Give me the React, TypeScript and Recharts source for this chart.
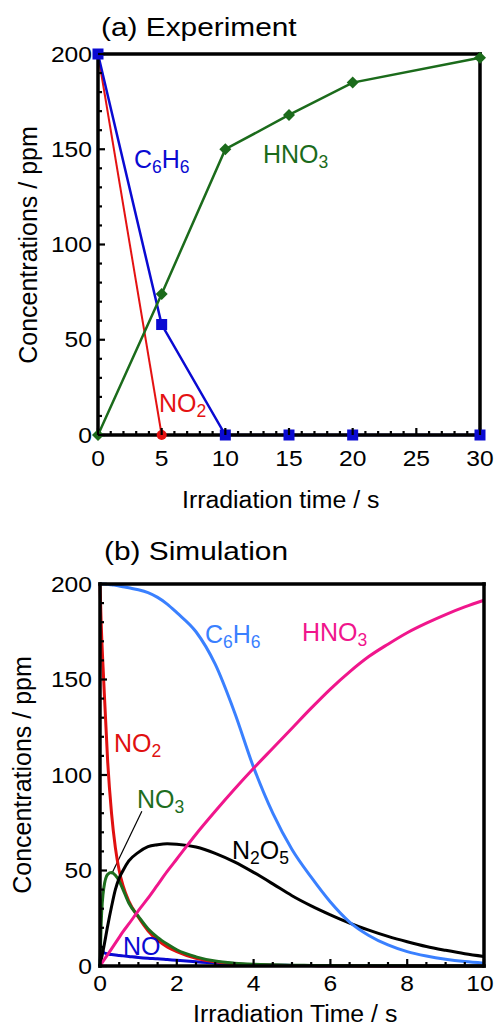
import React from 'react';
import { LineChart, Line, XAxis, YAxis, ReferenceLine } from 'recharts';

const FONT = '"Liberation Sans", Arial, Helvetica, sans-serif';

// (a) experiment
const expTime = [0, 5, 10, 15, 20, 30];
const expC6H6 = [200, 58, 0, 0, 0, 0];
const expHNO3 = [0, 74, 150, 168, 185, 198];
const expNO2Time = [0, 5];
const expNO2 = [200, 0];

// (b) simulation
const simTime = [0, 0.03, 0.1, 0.2, 0.3, 0.4, 0.5, 0.6, 0.75, 1, 1.25, 1.5, 1.75, 2, 2.5, 3, 3.5, 4, 4.5, 5, 5.5, 6, 6.5, 7, 7.5, 8, 8.5, 9, 9.5, 10];
const simC6H6 = [200, 200, 200, 199.8, 199.6, 199.3, 199, 198.6, 198, 197, 195.5, 193, 189.5, 185, 175, 158, 133, 104, 80, 61, 46.5, 33.5, 23, 16, 11, 7.5, 5.2, 3.5, 2.3, 1.5];
const simHNO3 = [0, 0.9, 3, 6, 9, 12, 15, 18, 22, 29, 35.5, 42.5, 49.5, 56, 69, 81, 92.5, 103.5, 114, 124.5, 135, 145, 154, 162, 168.5, 174.5, 179.5, 184, 188, 191.5];
const simNO2 = [200, 180, 148, 107, 80, 62, 50, 42, 34, 25.5, 18.5, 13.5, 10, 7.5, 4, 2.2, 1.2, 0.7, 0.4, 0.3, 0.2, 0.1, 0.1, 0, 0, 0, 0, 0, 0, 0];
const simNO3 = [0, 22, 41, 48, 49, 47.5, 44.5, 40, 33, 26, 19.5, 15, 11.5, 8.5, 4.8, 2.6, 1.5, 0.9, 0.6, 0.4, 0.3, 0.2, 0.15, 0.1, 0.1, 0.05, 0, 0, 0, 0];
const simN2O5 = [0, 3, 10, 21, 31, 40, 46, 50, 55, 59.5, 62.5, 63.5, 64, 63.8, 62.3, 59, 54.5, 49, 43, 36.8, 31.5, 26.8, 22.5, 18.8, 15.5, 12.7, 10.2, 8.2, 6.4, 5];
const simNO = [0, 9, 7, 6.3, 6, 5.8, 5.5, 5.3, 5, 4.5, 4.1, 3.8, 3.4, 3, 2.2, 1.5, 1, 0.6, 0.4, 0.3, 0.2, 0.1, 0.1, 0.1, 0, 0, 0, 0, 0, 0];

// ticks
const expXTicks = [0, 1, 2, 3, 4, 5, 6, 7, 8, 9, 10, 11, 12, 13, 14, 15, 16, 17, 18, 19, 20, 21, 22, 23, 24, 25, 26, 27, 28, 29, 30];
const expXMajor = [0, 5, 10, 15, 20, 25, 30];
const simXTicks = [0, 0.5, 1, 1.5, 2, 2.5, 3, 3.5, 4, 4.5, 5, 5.5, 6, 6.5, 7, 7.5, 8, 8.5, 9, 9.5, 10];
const simXMajor = [0, 2, 4, 6, 8, 10];
const yTicks = [0, 10, 20, 30, 40, 50, 60, 70, 80, 90, 100, 110, 120, 130, 140, 150, 160, 170, 180, 190, 200];
const yMajor = [0, 50, 100, 150, 200];

// leader line for the NO3 label
const no3Leader = [{ x: 1.09, y: 81 }, { x: 0.3, y: 48 }];

const rows = (xs: number[], ys: number[]) => xs.map((t, i) => ({ t, v: ys[i] }));

type Side = 'bottom' | 'top' | 'left' | 'right';

function axisTick(side: Side, major: number[], labelOffset = 0, maxX = 9999) {
  return (p: any) => {
    const v = p.payload.value;
    const isMajor = major.includes(v);
    const len = isMajor ? 7 : 4;
    const { x, y } = p;
    let x2 = x;
    let y2 = y;
    if (side === 'bottom') y2 = y - len;
    if (side === 'top') y2 = y + len;
    if (side === 'left') x2 = x + len;
    if (side === 'right') x2 = x - len;
    const showLabel = labelOffset > 0 && isMajor;
    return (
      <g>
        <line x1={x} y1={y} x2={x2} y2={y2} stroke="#000" strokeWidth={2.2} />
        {showLabel && side === 'bottom' && (
          <text transform={`translate(${Math.min(x, maxX)},${y + labelOffset}) scale(1.12,1)`} textAnchor="middle"
            dominantBaseline="central" fontSize={22} fill="#000" fontFamily={FONT}>{v}</text>
        )}
        {showLabel && side === 'left' && (
          <text transform={`translate(${x - labelOffset},${y}) scale(1.12,1)`} textAnchor="end"
            dominantBaseline="central" fontSize={22} fill="#000" fontFamily={FONT}>{v}</text>
        )}
      </g>
    );
  };
}

const frame = { stroke: '#000', strokeWidth: 3.5, strokeLinecap: 'square' as const };

const square = (color: string) => (p: any) => (
  <rect key={`s${p.index}`} x={p.cx - 5.5} y={p.cy - 5.5} width={11} height={11} fill={color} />
);
const circle = (color: string) => (p: any) => (
  <circle key={`c${p.index}`} cx={p.cx} cy={p.cy} r={5} fill={color} />
);
const diamond = (color: string) => (p: any) => (
  <path key={`d${p.index}`} d={`M${p.cx},${p.cy - 6}L${p.cx + 6},${p.cy}L${p.cx},${p.cy + 6}L${p.cx - 6},${p.cy}Z`} fill={color} />
);

function Txt({ x, cy, size, color = '#000', sx = 1, children }: any) {
  return (
    <div style={{
      position: 'absolute', left: x, top: cy - 0.49 * size, fontSize: size, lineHeight: 1,
      color, whiteSpace: 'nowrap', transform: `scaleX(${sx})`, transformOrigin: 'left center',
    }}>{children}</div>
  );
}

const Sub = ({ children }: any) => (
  <span style={{ fontSize: '0.7em', position: 'relative', top: '0.32em' }}>{children}</span>
);

function YTitle({ cx, cy }: { cx: number; cy: number }) {
  return (
    <div style={{
      position: 'absolute', left: cx, top: cy, fontSize: 25, lineHeight: 1, whiteSpace: 'nowrap',
      transform: 'translate(-50%,-50%) rotate(-90deg)',
    }}>Concentrations / ppm</div>
  );
}

function ExperimentChart() {
  return (
    <LineChart width={496} height={520} margin={{ top: 53, right: 15, bottom: 55, left: 0 }}>
      <XAxis dataKey="t" type="number" domain={[0, 30]} ticks={expXTicks} interval={0} height={30}
        tickSize={0} tickMargin={0} tickLine={false} axisLine={frame} tick={axisTick('bottom', expXMajor, 23)} />
      <XAxis xAxisId="top" orientation="top" dataKey="t" type="number" domain={[0, 30]} ticks={expXTicks}
        interval={0} height={1} tickSize={0} tickMargin={0} tickLine={false} axisLine={frame}
        tick={axisTick('top', expXMajor)} />
      <YAxis type="number" domain={[0, 200]} ticks={yTicks} interval={0} width={98}
        tickSize={0} tickMargin={0} tickLine={false} axisLine={frame} tick={axisTick('left', yMajor, 6)} />
      <YAxis yAxisId="r" orientation="right" type="number" domain={[0, 200]} ticks={yTicks} interval={0}
        width={1} tickSize={0} tickMargin={0} tickLine={false} axisLine={frame} tick={axisTick('right', yMajor)} />
      <Line data={rows(expNO2Time, expNO2)} dataKey="v" type="linear" stroke="#e41212" strokeWidth={2}
        dot={circle('#e41212')} activeDot={false} isAnimationActive={false} />
      <Line data={rows(expTime, expC6H6)} dataKey="v" type="linear" stroke="#0a0ad2" strokeWidth={2.5}
        dot={square('#0a0ad2')} activeDot={false} isAnimationActive={false} />
      <Line data={rows(expTime, expHNO3)} dataKey="v" type="linear" stroke="#1b6b1b" strokeWidth={2.5}
        dot={diamond('#1b6b1b')} activeDot={false} isAnimationActive={false} />
    </LineChart>
  );
}

function SimulationChart() {
  const series: [number[], string][] = [
    [simNO, '#0a0ad2'],
    [simNO2, '#e01010'],
    [simNO3, '#1e6e1e'],
    [simN2O5, '#000000'],
    [simC6H6, '#3a80ff'],
    [simHNO3, '#f0168c'],
  ];
  return (
    <LineChart width={496} height={496} margin={{ top: 53, right: 11, bottom: 30, left: 0 }}>
      <XAxis dataKey="t" type="number" domain={[0, 10]} ticks={simXTicks} interval={0} height={30}
        tickSize={0} tickMargin={0} tickLine={false} axisLine={frame}
        tick={axisTick('bottom', simXMajor, 17, 480)} />
      <XAxis xAxisId="top" orientation="top" dataKey="t" type="number" domain={[0, 10]} ticks={simXTicks}
        interval={0} height={1} tickSize={0} tickMargin={0} tickLine={false} axisLine={frame}
        tick={axisTick('top', simXMajor)} />
      <YAxis type="number" domain={[0, 200]} ticks={yTicks} interval={0} width={100}
        tickSize={0} tickMargin={0} tickLine={false} axisLine={frame} tick={axisTick('left', yMajor, 8)} />
      <YAxis yAxisId="r" orientation="right" type="number" domain={[0, 200]} ticks={yTicks} interval={0}
        width={1} tickSize={0} tickMargin={0} tickLine={false} axisLine={frame} tick={axisTick('right', yMajor)} />
      <ReferenceLine segment={no3Leader} stroke="#000" strokeWidth={1.2} />
      {series.map(([vals, color], i) => (
        <Line key={i} data={rows(simTime, vals)} dataKey="v" type="monotone" stroke={color} strokeWidth={3}
          dot={false} activeDot={false} isAnimationActive={false} />
      ))}
    </LineChart>
  );
}

export default function App() {
  return (
    <div style={{
      position: 'absolute', left: 0, top: 0, width: 496, height: 1026, background: '#fff',
      fontFamily: FONT, color: '#000', overflow: 'hidden',
    }}>
      <div style={{ position: 'absolute', left: 0, top: 0 }}>
        <ExperimentChart />
      </div>
      <div style={{ position: 'absolute', left: 0, top: 530 }}>
        <SimulationChart />
      </div>

      <Txt x={101} cy={27.5} size={25.5} sx={1.17}>(a) Experiment</Txt>
      <YTitle cx={28} cy={245} />
      <Txt x={182} cy={500} size={23} sx={1.08}>Irradiation time / s</Txt>
      <Txt x={134} cy={159} size={25} color="#0a0ad2">C<Sub>6</Sub>H<Sub>6</Sub></Txt>
      <Txt x={263} cy={154} size={25} color="#1b6b1b">HNO<Sub>3</Sub></Txt>
      <Txt x={159} cy={403} size={25} color="#e41212">NO<Sub>2</Sub></Txt>

      <Txt x={104} cy={551} size={25.5} sx={1.17}>(b) Simulation</Txt>
      <YTitle cx={22} cy={775} />
      <Txt x={193} cy={1014} size={23} sx={1.08}>Irradiation Time / s</Txt>
      <Txt x={205} cy={634} size={25} color="#3a80ff">C<Sub>6</Sub>H<Sub>6</Sub></Txt>
      <Txt x={302} cy={632} size={25} color="#f0168c">HNO<Sub>3</Sub></Txt>
      <Txt x={114} cy={743} size={25} color="#e01010">NO<Sub>2</Sub></Txt>
      <Txt x={137} cy={799} size={25} color="#1e6e1e">NO<Sub>3</Sub></Txt>
      <Txt x={232} cy={850} size={25}>N<Sub>2</Sub>O<Sub>5</Sub></Txt>
      <Txt x={123} cy={946} size={25} color="#0a0ad2">NO</Txt>
    </div>
  );
}
